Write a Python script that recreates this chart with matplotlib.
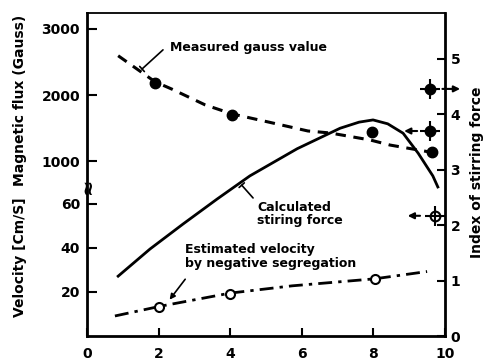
import numpy as np
import matplotlib
matplotlib.use("Agg")
import matplotlib.pyplot as plt

plt.rcParams['font.family'] = ['DejaVu Sans']
plt.rcParams['font.weight'] = 'bold'

# measured gauss value (dashed curve + filled dots)
gauss_x = [0.87, 1.9, 2.37, 3.3, 4.05, 5.06, 6.17, 6.79, 7.91, 8.46, 9.58]
gauss_y = [2595, 2202, 2091, 1853, 1717, 1595, 1459, 1429, 1323, 1247, 1141]
gauss_pts_x = [1.9, 4.05, 7.96, 9.64]
gauss_pts_y = [2182, 1697, 1451, 1135]

# calculated stiring force (solid, right axis)
force_x = [0.87, 1.76, 2.68, 3.63, 4.55, 5.87, 7.07, 7.6, 7.99, 8.4, 8.83, 9.25, 9.66, 9.8]
force_y = [1.08, 1.57, 2.02, 2.47, 2.89, 3.38, 3.75, 3.86, 3.9, 3.83, 3.66, 3.30, 2.89, 2.69]

# estimated velocity by negative segregation (dash-dot + open circles)
vel_x = [0.78, 2.04, 4.0, 5.73, 8.04, 9.5]
vel_y = [9.1, 13.5, 19.5, 22.8, 26.0, 29.3]
vel_pts_x = [2.0, 4.0, 8.04]
vel_pts_y = [13.2, 19.1, 25.9]

# index markers near the right axis
idx_x = [9.58, 9.58, 9.72]
idx_y = [4.46, 3.70, 2.17]
idx_fill = ['black', 'black', 'white']

fig = plt.figure(figsize=(4.84, 3.6), dpi=100)
ax = fig.add_axes([87/484, 24/360, 358/484, 323/360])
axg = ax.twinx()
axi = ax.twinx()

ax.set_xlim(0, 10)
ax.set_ylim(0, 146.8)
axg.set_ylim(-1636, 3240)
axi.set_ylim(0, 5.83)

# velocity
ax.plot(vel_x, vel_y, color='black', lw=2, dashes=(5, 2.2, 1.2, 2.2))
ax.plot(vel_pts_x, vel_pts_y, 'o', ms=6.5, mfc='white', mec='black', mew=1.5)

# gauss
axg.plot(gauss_x, gauss_y, color='black', lw=2.2, dashes=(3.4, 2.5))
axg.plot(gauss_pts_x, gauss_pts_y, 'o', ms=7.5, color='black')

# stirring force
axi.plot(force_x, force_y, color='black', lw=2)
for x, y, fc in zip(idx_x, idx_y, idx_fill):
    axi.plot(x, y, 'o', ms=7, mfc=fc, mec='black', mew=1.5, clip_on=False)
    axi.plot(x, y, '+', ms=14, color='black', mew=1.5, clip_on=False)
axi.annotate('', xy=(10.5, idx_y[0]), xytext=(9.85, idx_y[0]),
             arrowprops=dict(arrowstyle='-|>', color='black', lw=1.5, mutation_scale=9),
             annotation_clip=False)
axi.annotate('', xy=(8.78, idx_y[1]), xytext=(9.3, idx_y[1]),
             arrowprops=dict(arrowstyle='-|>', color='black', lw=1.5, mutation_scale=9))
axi.annotate('', xy=(8.88, idx_y[2]), xytext=(9.38, idx_y[2]),
             arrowprops=dict(arrowstyle='-|>', color='black', lw=1.5, mutation_scale=9))

# annotations
ax.text(2.32, 130.9, 'Measured gauss value', fontsize=9, va='center', ha='left')
ax.annotate('', xy=(1.48, 120.5), xytext=(2.18, 130.9),
            arrowprops=dict(arrowstyle='-[, widthB=0.25, lengthB=0', color='black', lw=1.2))
ax.text(4.75, 55.5, 'Calculated\nstiring force', fontsize=9, va='center', ha='left',
        linespacing=1.05)
ax.annotate('', xy=(4.27, 69.5), xytext=(4.69, 61.8),
            arrowprops=dict(arrowstyle='-[, widthB=0.25, lengthB=0', color='black', lw=1.2))
ax.text(2.74, 36.1, 'Estimated velocity\nby negative segregation', fontsize=9,
        va='center', ha='left', linespacing=1.05)
ax.annotate('', xy=(2.26, 15.5), xytext=(2.79, 26.8),
            arrowprops=dict(arrowstyle='-|>', color='black', lw=1.2, mutation_scale=8))

# ticks
ax.set_xticks([0, 2, 4, 6, 8, 10])
ax.set_yticks([20, 40, 60])
axg.set_yticks([1000, 2000, 3000])
axi.set_yticks([0, 1, 2, 3, 4, 5])
axg.yaxis.tick_left()
ax.tick_params(axis='x', direction='in', length=6, width=1.5, pad=8, labelsize=10)
ax.tick_params(axis='y', direction='in', length=7, width=1.5, pad=5, labelsize=10)
axg.tick_params(axis='y', direction='in', length=7, width=1.5, pad=5, labelsize=10)
axi.tick_params(axis='y', direction='in', length=6, width=1.5, pad=4, labelsize=10)

for a in (axg, axi):
    for s in a.spines.values():
        s.set_visible(False)
for side in ('left', 'right', 'bottom'):
    ax.spines[side].set_linewidth(2)
ax.spines['top'].set_linewidth(1.3)

# axis break on left spine
ax.text(0, 0.465, '≈', transform=ax.transAxes, ha='center', va='center',
        fontsize=14, rotation=90)

fig.text(20/484, 1 - 257/360, 'Velocity [Cm/S]', rotation=90, ha='center', va='center', fontsize=10)
fig.text(20/484, 1 - 100/360, 'Magnetic flux (Gauss)', rotation=90, ha='center', va='center', fontsize=10)
fig.text(477/484, 1 - 172/360, 'Index of stirring force', rotation=90, ha='center', va='center', fontsize=10)

fig.savefig('out.png', dpi=100)
